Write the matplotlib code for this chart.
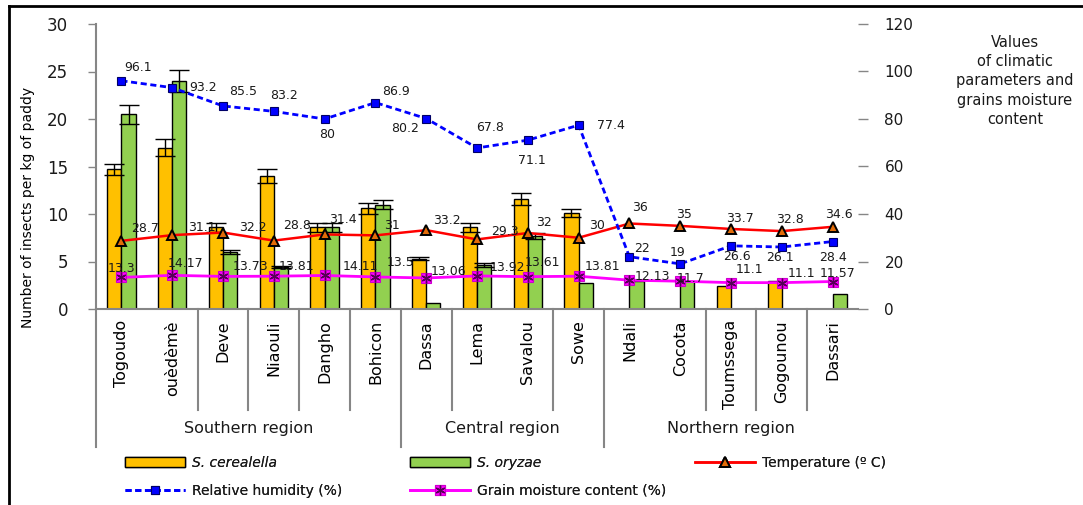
import matplotlib
matplotlib.use('Agg')
import matplotlib.pyplot as plt
import matplotlib.transforms as mtransforms
from matplotlib.lines import Line2D
from matplotlib.patches import Patch
import numpy as np

# ---------------- data ----------------
sites = ["Togoudo", "ouèdèmè", "Deve", "Niaouli", "Dangho", "Bohicon",
         "Dassa", "Lema", "Savalou", "Sowe",
         "Ndali", "Cocota", "Toumssega", "Gogounou", "Dassari"]
regions = ["Southern region", "Central region", "Northern region"]
region_sizes = [6, 4, 5]

cerealella = [14.7, 17.0, 8.6, 14.0, 8.6, 10.6, 5.3, 8.6, 11.6, 10.1, 0, 0, 2.4, 3.0, 0]
cerealella_err = [0.6, 0.9, 0.45, 0.7, 0.45, 0.6, 0.15, 0.5, 0.6, 0.45, 0, 0, 0, 0, 0]
oryzae = [20.5, 24.0, 6.0, 4.4, 8.6, 11.0, 0.6, 4.6, 7.7, 2.7, 3.0, 2.9, 0, 0, 1.6]
oryzae_err = [1.0, 1.2, 0.25, 0.1, 0.45, 0.5, 0, 0.2, 0.3, 0, 0, 0, 0, 0, 0]

humidity = [96.1, 93.2, 85.5, 83.2, 80, 86.9, 80.2, 67.8, 71.1, 77.4, 22, 19, 26.6, 26.1, 28.4]
temperature = [28.7, 31.1, 32.2, 28.8, 31.4, 31, 33.2, 29.3, 32, 30, 36, 35, 33.7, 32.8, 34.6]
moisture = [13.3, 14.17, 13.73, 13.81, 14.11, 13.5, 13.06, 13.92, 13.61, 13.81,
            12.13, 11.7, 11.1, 11.1, 11.57]

left_ticks = [0, 5, 10, 15, 20, 25, 30]
right_ticks = [0, 20, 40, 60, 80, 100, 120]

# label offsets (pixels) relative to points
hum_off = [(17, 13), (31, 0), (20, 14), (10, 16), (3, -16), (21, 11), (-21, -10), (13, 20),
           (4, -20), (32, 0), (13, 8), (-3, 11), (6, -11), (-2, -10), (0, -16)]
tmp_off = [(24, 12), (30, 8), (30, 5), (23, 15), (18, 15), (17, 10), (21, 10), (28, 8),
           (16, 10), (18, 12), (11, 16), (4, 11), (9, 10), (8, 12), (6, 12)]
mst_off = [(0, 9), (13, 12), (27, 10), (23, 10), (36, 9), (25, 14), (22, 6), (30, 8),
           (15, 14), (24, 10), (23, 4), (10, 3), (18, 13), (20, 9), (5, 8)]

# ---------------- style ----------------
ORANGE = '#FFC000'
GREEN = '#92D050'
GRAY = '#868686'
TXT = '#1a1a1a'

W, H = 1083, 505
fig = plt.figure(figsize=(W / 100, H / 100), dpi=100)
fig.patch.set_facecolor('white')

x0, x1 = 96, 858
ytop, ybot = 24, 309
ax = fig.add_axes([x0 / W, 1 - ybot / H, (x1 - x0) / W, (ybot - ytop) / H])
ax2 = ax.twinx()

n = len(sites)
xc = np.arange(n) + 0.5
bw = 0.28

ax.bar(xc - bw / 2, cerealella, width=bw, color=ORANGE, edgecolor='black', linewidth=1,
       label='S. cerealella', zorder=2)
ax.bar(xc + bw / 2, oryzae, width=bw, color=GREEN, edgecolor='black', linewidth=1,
       label='S. oryzae', zorder=2)

ce = np.array(cerealella_err); oe = np.array(oryzae_err)
m1 = ce > 0
ax.errorbar((xc - bw / 2)[m1], np.array(cerealella)[m1], yerr=ce[m1], fmt='none',
            ecolor='black', elinewidth=1, capsize=7, capthick=1, zorder=3)
m2 = oe > 0
ax.errorbar((xc + bw / 2)[m2], np.array(oryzae)[m2], yerr=oe[m2], fmt='none',
            ecolor='black', elinewidth=1, capsize=7, capthick=1, zorder=3)

ax.set_xlim(0, n)
ax.set_ylim(0, 30)
ax.set_yticks(left_ticks)
ax.set_xticks([])
for s in ['top', 'right']:
    ax.spines[s].set_visible(False)
for s in ['left', 'bottom']:
    ax.spines[s].set_color(GRAY)
    ax.spines[s].set_linewidth(1.5)
ax.tick_params(axis='y', direction='out', length=6, width=1, color=GRAY,
               labelsize=12, labelcolor=TXT, pad=14)

# secondary axis lines
l_t, = ax2.plot(xc, temperature, color='#FF0000', lw=1.8, marker='^', ms=7,
                mfc='#E36C09', mec='black', mew=1.4, zorder=4, label='Temperature (º C)')
l_h, = ax2.plot(xc, humidity, color='#0000FF', lw=2, ls=(0, (2.2, 1.3)), marker='s', ms=6,
                mfc='#0000FF', mec='#000066', mew=0.8, zorder=5, label='Relative humidity (%)')
l_m, = ax2.plot(xc, moisture, color='#FF00FF', lw=2, marker='s', ms=7,
                mfc='#FF00FF', mec='#CC00CC', mew=0.8, zorder=4)
l_m2, = ax2.plot(xc, moisture, ls='none', marker=(6, 2, 0), ms=7, mec='#550055',
                 mew=1, zorder=4.5)

ax2.set_ylim(0, 120)
ax2.set_yticks(right_ticks)
for s in ['top', 'right', 'left', 'bottom']:
    ax2.spines[s].set_visible(False)
ax2.tick_params(axis='y', direction='out', length=7, width=1, color=GRAY,
                labelsize=11, labelcolor=TXT, pad=12)

def fmt(v):
    return f"{v:g}"

for i in range(n):
    ax2.annotate(fmt(humidity[i]), (xc[i], humidity[i]), xytext=hum_off[i],
                 textcoords='offset pixels', ha='center', va='center', fontsize=9,
                 color=TXT, zorder=6)
    ax2.annotate(fmt(temperature[i]), (xc[i], temperature[i]), xytext=tmp_off[i],
                 textcoords='offset pixels', ha='center', va='center', fontsize=9,
                 color=TXT, zorder=6)
    ax2.annotate(fmt(moisture[i]), (xc[i], moisture[i]), xytext=mst_off[i],
                 textcoords='offset pixels', ha='center', va='center', fontsize=9,
                 color=TXT, zorder=6)

# ---------------- multi-level category axis ----------------
trans = mtransforms.blended_transform_factory(ax.transData, ax.transAxes)
short_k = [2, 3, 4, 5, 7, 9, 12, 13, 14]
long_k = [0, 6, 10]
y_short = -(410 - ybot) / (ybot - ytop)
y_long = -(447 - ybot) / (ybot - ytop)
for k in short_k:
    ax.plot([k, k], [0, y_short], transform=trans, clip_on=False, color=GRAY, lw=1.5)
for k in long_k:
    ax.plot([k, k], [0, y_long], transform=trans, clip_on=False, color=GRAY, lw=1.5)

y_lab = -(320 - ybot) / (ybot - ytop)
for i, s in enumerate(sites):
    ax.text(xc[i], y_lab, s, rotation=90, ha='center', va='top', fontsize=11.5,
            color='black', transform=trans)

y_reg = -(428 - ybot) / (ybot - ytop)
start = 0
for r, sz in zip(regions, region_sizes):
    ax.text(start + sz / 2, y_reg, r, ha='center', va='center', fontsize=11.5,
            color=TXT, transform=trans)
    start += sz

# ---------------- texts ----------------
fig.text(28 / W, 1 - 207 / H, "Number of insects per kg of paddy", rotation=90,
         ha='center', va='center', fontsize=10, color='black')
fig.text(1015 / W, 1 - 35 / H, "Values\nof climatic\nparameters and\ngrains moisture\ncontent",
         ha='center', va='top', fontsize=10.5, color=TXT, linespacing=1.35)

# ---------------- legends ----------------
h_ce = Patch(facecolor=ORANGE, edgecolor='black', linewidth=1)
h_or = Patch(facecolor=GREEN, edgecolor='black', linewidth=1)
items = [
    (h_ce, 'S. cerealella', 125, 463, 'italic'),
    (h_or, 'S. oryzae', 410, 463, 'italic'),
    (l_t, 'Temperature (º C)', 695, 463, 'normal'),
    (l_h, 'Relative humidity (%)', 125, 491, 'normal'),
    ((l_m, l_m2), 'Grain moisture content (%)', 410, 491, 'normal'),
]
for h, lab, px, py, style in items:
    lg = fig.legend([h], [lab], loc='center left', bbox_to_anchor=(px / W, 1 - py / H),
                    bbox_transform=fig.transFigure, frameon=False, borderpad=0,
                    borderaxespad=0, handlelength=4.3, handleheight=0.65,
                    handletextpad=0.55, prop={'size': 10, 'style': style})
    for t in lg.get_texts():
        t.set_color(TXT)
    fig.add_artist(lg)

# ---------------- frame ----------------
fig.add_artist(Line2D([9 / W, 1], [1 - 6 / H, 1 - 6 / H], color='black', lw=2,
                      transform=fig.transFigure))
fig.add_artist(Line2D([9 / W, 9 / W], [0, 1 - 6 / H], color='black', lw=2,
                      transform=fig.transFigure))

fig.savefig('out.png', dpi=100, facecolor='white')
